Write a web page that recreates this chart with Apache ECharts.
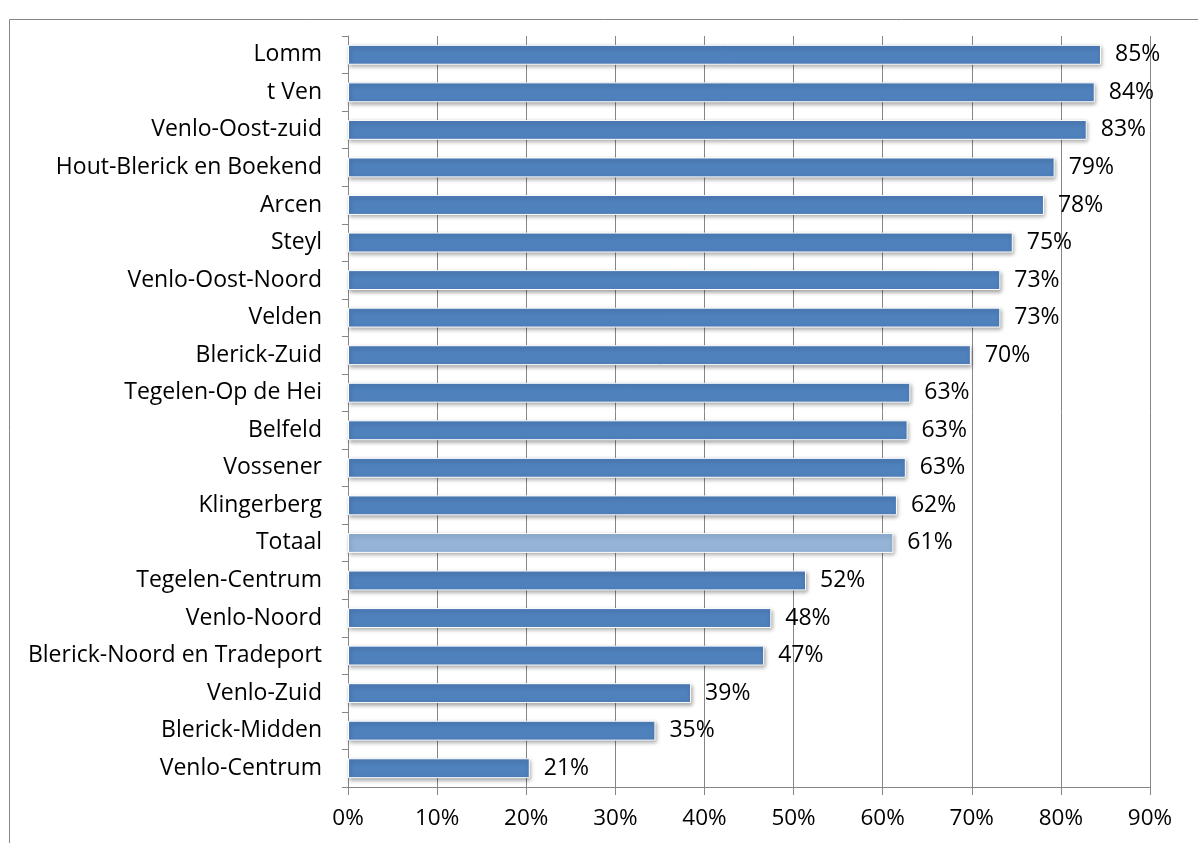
<!DOCTYPE html>
<html><head><meta charset="utf-8">
<script src="https://cdn.jsdelivr.net/npm/echarts@6/dist/echarts.min.js"></script>
<style>html,body{margin:0;padding:0;background:#fff}#c{width:1198px;height:843px}</style>
</head><body><div id="c"></div>
<script>
const categories = ["Lomm","t Ven","Venlo-Oost-zuid","Hout-Blerick en Boekend","Arcen","Steyl","Venlo-Oost-Noord","Velden","Blerick-Zuid","Tegelen-Op de Hei","Belfeld","Vossener","Klingerberg","Totaal","Tegelen-Centrum","Venlo-Noord","Blerick-Noord en Tradeport","Venlo-Zuid","Blerick-Midden","Venlo-Centrum"];
const values = [84.5,83.8,82.9,79.3,78.1,74.6,73.2,73.2,69.9,63.1,62.8,62.6,61.6,61.2,51.4,47.5,46.7,38.5,34.5,20.4];
const labels = ["85%","84%","83%","79%","78%","75%","73%","73%","70%","63%","63%","63%","62%","61%","52%","48%","47%","39%","35%","21%"];
const highlight = "Totaal";

const FONT = '"Open Sans", sans-serif';
const chart = echarts.init(document.getElementById('c'), null, {renderer:'canvas'});
chart.setOption({
  animation:false,
  graphic:[{type:'rect',shape:{x:9.5,y:19.5,width:1300,height:900},style:{fill:'none',stroke:'#868686',lineWidth:1},silent:true}],
  grid:{left:348,right:48,top:36,bottom:56,containLabel:false},
  xAxis:{type:'value',min:0,max:90,interval:10,
    axisLabel:{formatter:v=>v+'%',fontFamily:FONT,fontSize:22.5,color:'#000',margin:20},
    axisLine:{show:true,lineStyle:{color:'#868686',width:1}},
    axisTick:{show:true,length:8,lineStyle:{color:'#868686'}},
    splitLine:{show:true,lineStyle:{color:'#868686',width:1}}},
  yAxis:{type:'category',data:categories,inverse:true,
    axisLabel:{fontFamily:FONT,fontSize:23,color:'#000',margin:26},
    axisLine:{show:true,lineStyle:{color:'#868686',width:1}},
    axisTick:{show:true,length:6,lineStyle:{color:'#868686'}}},
  series:[{type:'bar',barCategoryGap:'47%',
    data:values.map((v,i)=>({value:v,itemStyle:{color:categories[i]===highlight?'#95B3D7':'#4F81BD'}})),
    itemStyle:{borderColor:'#fff',borderWidth:1,shadowColor:'rgba(0,0,0,0.35)',shadowBlur:4,shadowOffsetX:1,shadowOffsetY:2},
    label:{show:true,position:'right',distance:14,fontFamily:FONT,fontSize:23,color:'#000',
      formatter:p=>labels[p.dataIndex]}}]
});
</script></body></html>
